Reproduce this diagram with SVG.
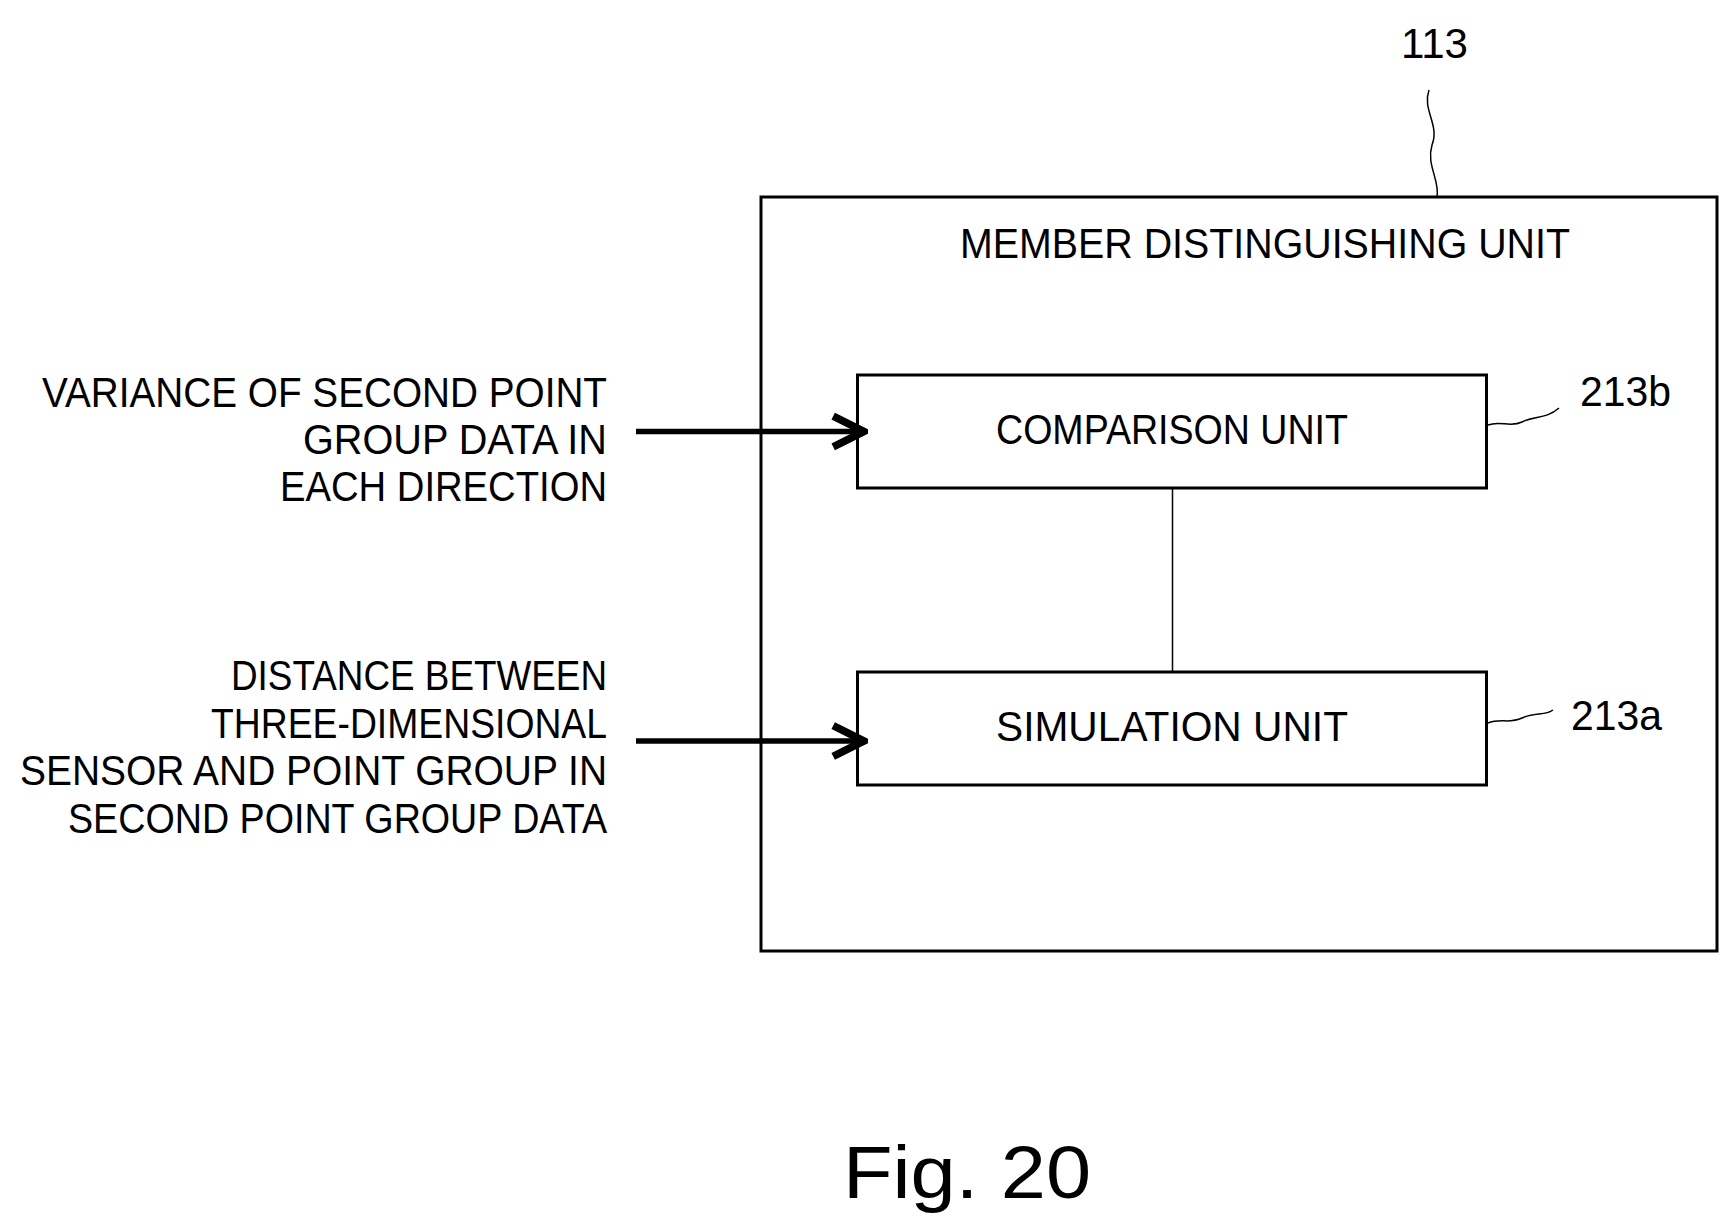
<svg xmlns="http://www.w3.org/2000/svg" width="1722" height="1217" viewBox="0 0 1722 1217">
<style>
text{font-family:"Liberation Sans",Arial,sans-serif;font-size:42px;fill:#000}
.box{fill:none;stroke:#000;stroke-width:3}
.lead{fill:none;stroke:#000;stroke-width:1.5}
.arr{fill:none;stroke:#000;stroke-width:5.5}
</style>
<defs>
<marker id="ah" viewBox="0 0 20 20" refX="18" refY="10" markerWidth="7" markerHeight="7" orient="auto" markerUnits="strokeWidth">
<path d="M2,2 L18,10 L2,18" fill="none" stroke="#000" stroke-width="4"/>
</marker>
</defs>
<rect width="1722" height="1217" fill="#fff"/>
<g id="unit113">
<rect class="box" x="761" y="197" width="956" height="754"/>
<text x="960" y="258" textLength="610" lengthAdjust="spacingAndGlyphs">MEMBER DISTINGUISHING UNIT</text>
<text x="1401" y="58" textLength="67" lengthAdjust="spacingAndGlyphs">113</text>
</g>
<g id="comparison">
<rect class="box" x="857.5" y="375" width="629" height="113"/>
<text x="996" y="444" textLength="352" lengthAdjust="spacingAndGlyphs">COMPARISON UNIT</text>
<text x="1580" y="406" textLength="91" lengthAdjust="spacingAndGlyphs">213b</text>
</g>
<g id="simulation">
<rect class="box" x="857.5" y="672" width="629" height="113"/>
<text x="996" y="741" textLength="352" lengthAdjust="spacingAndGlyphs">SIMULATION UNIT</text>
<text x="1571" y="730" textLength="91" lengthAdjust="spacingAndGlyphs">213a</text>
</g>
<g id="input1">
<text x="42" y="407" textLength="565" lengthAdjust="spacingAndGlyphs">VARIANCE OF SECOND POINT</text>
<text x="303" y="454" textLength="304" lengthAdjust="spacingAndGlyphs">GROUP DATA IN</text>
<text x="280" y="501" textLength="327" lengthAdjust="spacingAndGlyphs">EACH DIRECTION</text>
</g>
<g id="input2">
<text x="231" y="690" textLength="376" lengthAdjust="spacingAndGlyphs">DISTANCE BETWEEN</text>
<text x="211" y="738" textLength="396" lengthAdjust="spacingAndGlyphs">THREE-DIMENSIONAL</text>
<text x="20" y="785" textLength="587" lengthAdjust="spacingAndGlyphs">SENSOR AND POINT GROUP IN</text>
<text x="68" y="833" textLength="539" lengthAdjust="spacingAndGlyphs">SECOND POINT GROUP DATA</text>
</g>
<g id="fig">
<text x="843" y="1198" textLength="248" lengthAdjust="spacingAndGlyphs" style="font-size:74px">Fig. 20</text>
</g>
<g id="connectors">
<line class="box" x1="1172.5" y1="488" x2="1172.5" y2="672" style="stroke-width:1.5"/>
<line class="arr" x1="636" y1="431.5" x2="864" y2="431.5" marker-end="url(#ah)"/>
<line class="arr" x1="636" y1="741" x2="864" y2="741" marker-end="url(#ah)"/>
<path class="lead" d="M1429,90 C1422,110 1440,125 1432,145 C1426,165 1440,180 1437,197"/>
<path class="lead" d="M1488,425 C1500,420 1510,428 1522,422 C1535,415 1545,420 1559,408"/>
<path class="lead" d="M1488,723 C1500,718 1510,724 1522,718 C1535,712 1545,716 1553,710"/>
</g>
</svg>
